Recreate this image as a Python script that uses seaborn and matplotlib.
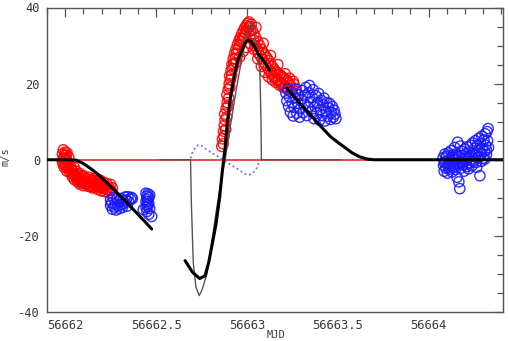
import matplotlib
matplotlib.use("Agg")
import matplotlib.pyplot as plt
from matplotlib.ticker import MultipleLocator, FixedLocator, FixedFormatter
import seaborn as sns
import pandas as pd

# ---------------- data ----------------
red1_mjd = [56661.985, 56661.985, 56661.99, 56661.99, 56661.99, 56661.995, 56661.995,
            56662.000, 56662.000, 56662.000, 56662.005, 56662.005, 56662.01, 56662.01, 56662.01,
            56662.02, 56662.02, 56662.02, 56662.03, 56662.03, 56662.04, 56662.04,
            56662.05, 56662.05, 56662.05, 56662.06, 56662.06, 56662.07, 56662.07,
            56662.08, 56662.08, 56662.08, 56662.09, 56662.09, 56662.10, 56662.10, 56662.10,
            56662.12, 56662.12, 56662.13, 56662.13, 56662.14, 56662.14, 56662.15, 56662.15,
            56662.16, 56662.16, 56662.17, 56662.17, 56662.18, 56662.18, 56662.19, 56662.19,
            56662.20, 56662.20, 56662.21, 56662.21, 56662.22, 56662.22, 56662.23, 56662.23,
            56662.24, 56662.24, 56662.25, 56662.25, 56662.26, 56662.26,
            56662.015, 56662.025, 56662.035, 56662.045, 56662.055, 56662.065, 56662.075,
            56662.085, 56662.095, 56662.105, 56662.115, 56662.125, 56662.135, 56662.145,
            56662.155, 56662.165, 56662.175, 56662.185, 56662.195, 56662.205]
red1_v = [1.5, -0.5, 2.6, 0.3, -1.2, 1.0, -2.0,
          2.0, -0.8, 0.5, 1.2, -1.8, -0.2, -3.0, 1.8,
          -1.0, -2.4, 0.6, -3.5, -1.8, -2.8, -4.5,
          -3.8, -2.0, -5.2, -4.6, -3.0, -5.8, -4.0,
          -3.6, -5.2, -6.4, -4.8, -6.0, -5.5, -4.2, -6.8,
          -5.0, -6.3, -4.6, -7.0, -5.8, -6.6, -5.2, -7.4,
          -6.2, -4.9, -7.0, -5.6, -6.4, -7.8, -5.3, -7.1,
          -6.6, -8.2, -5.9, -7.5, -6.9, -8.4, -7.8, -6.3,
          -8.6, -7.2, -6.5, -8.0, -7.4, -8.8,
          -1.6, -3.2, -2.6, -3.9, -4.1, -5.3, -4.9,
          -5.6, -4.4, -6.1, -5.7, -6.9, -6.0, -5.4,
          -7.1, -6.6, -5.9, -7.3, -6.7, -7.4]

red2_mjd = [56662.862, 56662.866, 56662.870, 56662.872, 56662.876, 56662.874, 56662.880,
            56662.878, 56662.884, 56662.886, 56662.889, 56662.892, 56662.890, 56662.895,
            56662.898, 56662.900, 56662.903, 56662.906, 56662.905, 56662.910, 56662.913,
            56662.916, 56662.918, 56662.922, 56662.925, 56662.928, 56662.932, 56662.936,
            56662.940, 56662.944, 56662.948, 56662.952, 56662.956, 56662.960, 56662.964,
            56662.968, 56662.972, 56662.976, 56662.980, 56662.984, 56662.988, 56662.992,
            56662.996, 56663.000, 56663.004, 56663.008, 56663.012, 56663.016, 56663.020,
            56663.024, 56662.980, 56663.000, 56663.020, 56662.960, 56662.940,
            56663.030, 56663.035, 56663.040, 56663.045, 56663.050, 56663.055, 56663.060,
            56663.065, 56663.070, 56663.075, 56663.080, 56663.085, 56663.090, 56663.095,
            56663.100, 56663.105, 56663.110, 56663.115, 56663.120, 56663.125, 56663.130,
            56663.135, 56663.140, 56663.145, 56663.150, 56663.155, 56663.160, 56663.165,
            56663.170, 56663.175, 56663.180, 56663.185, 56663.190, 56663.195, 56663.200,
            56663.205, 56663.210, 56663.215, 56663.220, 56663.225, 56663.230, 56663.240,
            56663.250, 56663.260, 56663.270, 56663.280,
            56663.040, 56663.060, 56663.080, 56663.100, 56663.120, 56663.140, 56663.160,
            56663.180, 56663.200, 56663.050, 56663.090, 56663.130, 56663.170, 56663.210,
            56663.235, 56663.255]
red2_v = [3.5, 5.5, 4.2, 7.5, 9.0, 6.2, 10.5,
          12.0, 8.0, 13.5, 11.2, 15.0, 17.0, 14.0,
          18.5, 16.2, 20.0, 19.0, 22.0, 21.0, 23.5,
          22.2, 25.0, 24.0, 26.5, 25.2, 27.8, 26.5,
          29.0, 28.0, 30.2, 29.0, 31.2, 30.0, 32.0,
          31.0, 33.0, 31.8, 33.8, 32.5, 34.6, 33.4,
          35.2, 34.0, 35.8, 34.6, 36.2, 35.0, 33.8,
          35.6, 28.5, 29.5, 30.5, 27.0, 25.5,
          34.0, 31.5, 33.0, 30.0, 32.0, 29.0, 31.0,
          28.0, 30.0, 27.2, 29.0, 26.5, 28.2, 25.5,
          27.5, 24.8, 26.8, 24.0, 26.0, 23.2, 25.2,
          22.8, 24.5, 22.0, 23.8, 21.5, 23.2, 21.0,
          22.8, 20.6, 22.4, 20.2, 22.0, 19.8, 21.6,
          19.4, 21.2, 19.0, 20.8, 18.6, 20.4, 19.6,
          18.5, 19.8, 18.0, 17.2,
          29.0, 26.5, 24.5, 23.0, 21.8, 21.0, 20.3,
          19.6, 19.0, 34.8, 30.6, 27.4, 25.0, 22.6,
          21.4, 20.6]

blue1_mjd = [56662.25, 56662.25, 56662.255, 56662.26, 56662.265, 56662.27, 56662.275, 56662.28,
             56662.285, 56662.29, 56662.295, 56662.30, 56662.305, 56662.31, 56662.315, 56662.32,
             56662.325, 56662.33, 56662.335, 56662.34, 56662.345, 56662.35, 56662.36, 56662.365,
             56662.37]
blue1_v = [-10.5, -12.0, -11.3, -13.0, -10.0, -12.4, -11.6, -13.2,
           -10.3, -12.0, -11.0, -12.8, -10.2, -11.8, -12.5, -10.8,
           -11.4, -9.8, -10.6, -12.2, -9.7, -11.0, -10.4, -9.9,
           -10.2]

blue2_mjd = [56662.43, 56662.445, 56662.445, 56662.445, 56662.45, 56662.45, 56662.45, 56662.45,
             56662.455, 56662.455, 56662.455, 56662.46, 56662.46, 56662.46, 56662.465, 56662.465,
             56662.476]
blue2_v = [-13.1, -8.8, -11.0, -12.5, -9.6, -10.4, -11.8, -13.6,
           -9.0, -10.9, -12.2, -10.0, -11.5, -14.3, -9.3, -12.8,
           -14.9]

blue3_mjd = [56663.215, 56663.220, 56663.225, 56663.230, 56663.235, 56663.240, 56663.245,
             56663.250, 56663.255, 56663.260, 56663.265, 56663.270, 56663.275, 56663.280,
             56663.285, 56663.290, 56663.295, 56663.300, 56663.305, 56663.310, 56663.315,
             56663.320, 56663.325, 56663.330, 56663.335, 56663.340, 56663.345, 56663.350,
             56663.355, 56663.360, 56663.365, 56663.370, 56663.375, 56663.380, 56663.385,
             56663.390, 56663.395, 56663.400, 56663.405, 56663.410, 56663.415, 56663.420,
             56663.425, 56663.430, 56663.435, 56663.440, 56663.445, 56663.450, 56663.455,
             56663.460, 56663.465, 56663.470, 56663.475, 56663.480, 56663.485, 56663.490]
blue3_v = [17.5, 15.5, 18.5, 14.0, 16.5, 12.5, 17.8,
           15.0, 11.5, 13.8, 16.2, 18.6, 12.2, 14.8,
           17.0, 11.2, 13.4, 15.8, 18.2, 12.4, 14.6,
           16.8, 19.0, 11.6, 13.8, 17.6, 19.5, 15.2,
           12.6, 16.4, 18.4, 10.8, 14.0, 16.8, 12.2,
           15.0, 17.4, 10.4, 13.2, 15.6, 11.6, 14.4,
           16.2, 10.2, 12.8, 15.0, 11.4, 13.6, 14.8,
           10.6, 12.4, 14.0, 11.2, 13.0, 12.0, 10.8]

blue4_mjd = [56664.080, 56664.083, 56664.086, 56664.090, 56664.093, 56664.096, 56664.100,
             56664.104, 56664.107, 56664.110, 56664.114, 56664.117, 56664.120, 56664.124,
             56664.127, 56664.130, 56664.134, 56664.137, 56664.140, 56664.144, 56664.147,
             56664.150, 56664.154, 56664.157, 56664.160, 56664.164, 56664.167, 56664.170,
             56664.172, 56664.175, 56664.178, 56664.181, 56664.185, 56664.188, 56664.192,
             56664.195, 56664.199, 56664.202, 56664.206, 56664.210, 56664.213, 56664.217,
             56664.220, 56664.224, 56664.228, 56664.232, 56664.235, 56664.239, 56664.243,
             56664.246, 56664.250, 56664.254, 56664.258, 56664.261, 56664.265, 56664.269,
             56664.272, 56664.276, 56664.280, 56664.283, 56664.287, 56664.290, 56664.294,
             56664.297, 56664.301, 56664.305, 56664.308, 56664.312, 56664.315, 56664.319,
             56664.322, 56664.325, 56664.328, 56664.330,
             56664.088, 56664.098, 56664.112, 56664.122, 56664.132, 56664.142, 56664.152,
             56664.162, 56664.183, 56664.197, 56664.208, 56664.222, 56664.237, 56664.252,
             56664.263, 56664.278, 56664.292, 56664.310, 56664.318]
blue4_v = [0.5, -1.5, -3.0, 1.5, -0.5, -2.2, 0.8,
           -3.5, -1.0, 1.8, -2.5, 0.2, -1.6, 2.4,
           -0.6, -3.2, 1.2, -1.8, 0.4, 3.2, -2.6,
           -0.2, 1.6, -4.6, 4.6, -1.2, -5.8, 0.8,
           -7.6, 3.6, -2.2, 0.0, 2.2, -1.4, 1.0,
           -3.0, 2.8, -0.4, 1.6, -1.8, 3.4, 0.4,
           -2.4, 2.0, -0.8, 3.8, 1.0, -1.6, 4.4,
           2.0, -0.4, 3.0, 5.0, 1.2, -2.0, 3.8,
           0.6, 5.6, 2.4, -4.2, 4.2, 1.6, 6.2,
           3.0, 0.4, 5.2, 2.2, 6.8, 3.8, 1.4,
           7.4, 5.0, 8.2, 3.2,
           -0.8, 0.9, -1.9, -0.3, 0.6, -1.1, 1.0,
           -0.6, -0.9, 0.3, -1.2, 0.9, -0.2, 1.4,
           -0.7, 0.8, -0.4, 0.2, 2.6]

# thick black model, three pieces
thickA_mjd = [56661.90, 56662.00, 56662.06, 56662.10, 56662.14, 56662.18, 56662.22,
              56662.27, 56662.32, 56662.36, 56662.40, 56662.44, 56662.476]
thickA_v = [0, 0, -0.1, -1.0, -2.3, -3.8, -5.6, -7.9, -10.3, -12.3, -14.3, -16.3, -18.2]

thickB_mjd = [56662.66, 56662.70, 56662.74, 56662.77, 56662.79, 56662.81, 56662.83,
              56662.85, 56662.865, 56662.88, 56662.893, 56662.908, 56662.93, 56662.95,
              56662.97, 56662.99, 56663.007, 56663.025, 56663.045, 56663.06, 56663.095,
              56663.126]
thickB_v = [-26.5, -29.5, -31.2, -30.5, -27.0, -22.0, -17.0, -10.0, -3.0, 3.0, 10.0,
            16.0, 22.0, 26.0, 28.5, 30.5, 31.5, 31.0, 29.5, 28.0, 25.8, 23.5]

thickC_mjd = [56663.22, 56663.26, 56663.30, 56663.34, 56663.38, 56663.42, 56663.46,
              56663.50, 56663.54, 56663.58, 56663.62, 56663.66, 56663.70, 56664.41]
thickC_v = [18.8, 16.6, 14.4, 12.3, 10.2, 8.1, 6.1, 4.6, 3.2, 1.8, 0.8, 0.2, 0.0, 0.0]

# thin grey model
thin_mjd = [56662.52, 56662.69, 56662.695, 56662.705, 56662.72, 56662.738, 56662.755,
            56662.78, 56662.80, 56662.83, 56662.86, 56662.88, 56662.91, 56662.94,
            56662.97, 56663.00, 56663.026, 56663.045, 56663.06, 56663.072, 56663.078,
            56663.08, 56663.52]
thin_v = [0, 0, -12, -27, -33.5, -35.7, -34, -30, -24, -14, -5, 0, 9, 18, 26, 33,
          36.3, 32, 27.5, 23, 10, 0, 0]

# blue dotted curve
dot_mjd = [56662.69, 56662.70, 56662.715, 56662.733, 56662.75, 56662.77, 56662.79,
           56662.815, 56662.84, 56662.86, 56662.88, 56662.90, 56662.92, 56662.943,
           56662.965, 56662.985, 56663.00, 56663.016, 56663.035, 56663.05, 56663.06,
           56663.067]
dot_v = [0.4, 1.8, 3.2, 3.9, 3.7, 3.0, 2.3, 1.6, 0.9, 0.3, -0.4, -1.0, -1.6, -2.2,
         -3.0, -3.6, -3.9, -3.9, -3.4, -2.6, -1.6, -0.4]

zero_mjd = [56661.90, 56664.41]
zero_v = [0.0, 0.0]

x_ticks = [56662.0, 56662.5, 56663.0, 56663.5, 56664.0]
x_labels = ["56662", "56662.5", "56663", "56663.5", "56664"]
y_ticks = [-40, -20, 0, 20, 40]
y_labels = ["-40", "-20", "0", "20", "40"]

# ---------------- plotting ----------------
sns.set_theme(style="white")
plt.rcParams["font.family"] = ["DejaVu Sans Mono", "DejaVu Sans"]

fig = plt.figure(figsize=(5.08, 3.41), dpi=100)
ax = fig.add_axes([47 / 508, 1 - 312 / 341, (503 - 47) / 508, (312 - 7.5) / 341])

def circles(xs, ys, col):
    df = pd.DataFrame({"mjd": xs, "v": ys})
    sns.scatterplot(data=df, x="mjd", y="v", ax=ax, marker="o", s=55,
                    facecolors="none", edgecolor=col, linewidth=1.0,
                    alpha=0.9, zorder=2, legend=False)
    ax.collections[-1].set_facecolor("none")

circles(red1_mjd, red1_v, "#ff0000")
circles(red2_mjd, red2_v, "#ff0000")
circles(blue1_mjd, blue1_v, "#1a1aff")
circles(blue2_mjd, blue2_v, "#1a1aff")
circles(blue3_mjd, blue3_v, "#1a1aff")
circles(blue4_mjd, blue4_v, "#1a1aff")

def line(xs, ys, **kw):
    df = pd.DataFrame({"mjd": xs, "v": ys})
    sns.lineplot(data=df, x="mjd", y="v", ax=ax, sort=False, estimator=None,
                 legend=False, **kw)

line(zero_mjd, zero_v, color="#e8383d", linewidth=1.3, zorder=3)
line(dot_mjd, dot_v, color="#6f6fe8", linewidth=1.3, linestyle=(0, (1, 1.6)), zorder=4)
line(thin_mjd, thin_v, color="#555555", linewidth=1.0, zorder=4)
line(thickA_mjd, thickA_v, color="black", linewidth=2.2, zorder=5)
line(thickB_mjd, thickB_v, color="black", linewidth=2.2, zorder=5)
line(thickC_mjd, thickC_v, color="black", linewidth=2.2, zorder=5)

ax.set_xlim(56661.90, 56664.41)
ax.set_ylim(-40, 40)
ax.xaxis.set_major_locator(FixedLocator(x_ticks))
ax.xaxis.set_major_formatter(FixedFormatter(x_labels))
ax.xaxis.set_minor_locator(MultipleLocator(0.1))
ax.yaxis.set_major_locator(FixedLocator(y_ticks))
ax.yaxis.set_major_formatter(FixedFormatter(y_labels))
ax.yaxis.set_minor_locator(MultipleLocator(5))

ax.tick_params(which="both", direction="in", top=True, right=True,
               color="#555555", width=0.9, labelcolor="#3a3a3a", labelsize=8.7)
ax.tick_params(which="major", length=6.5, pad=5)
ax.tick_params(which="minor", length=4)
for sp in ax.spines.values():
    sp.set_color("#555555")
    sp.set_linewidth(1.0)
ax.set_xlabel("")
ax.set_ylabel("")

fig.text(1 / 508, 0.54, "m/s", rotation=90, ha="left", va="center",
         fontsize=7.5, color="#3a3a3a")
fig.text(276 / 508, 1 - 330 / 341, "MJD", ha="center", va="top",
         fontsize=7.5, color="#3a3a3a")

fig.savefig("out.png", dpi=100)
